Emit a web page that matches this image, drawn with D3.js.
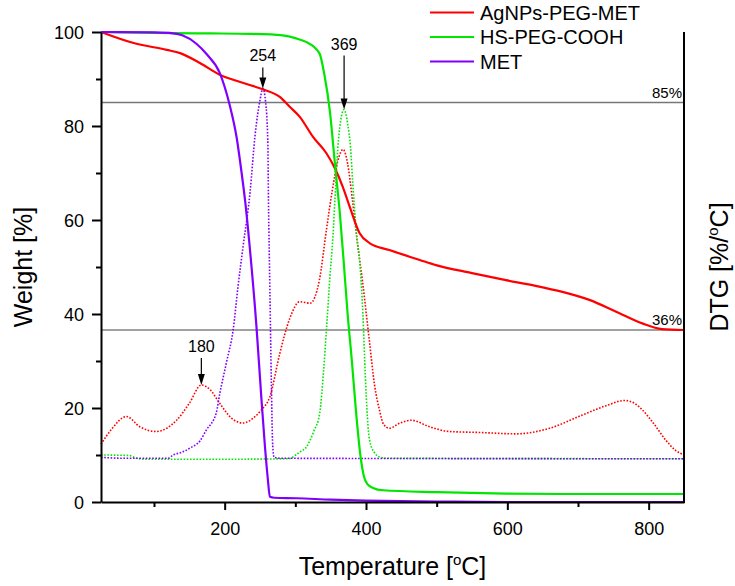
<!DOCTYPE html>
<html>
<head>
<meta charset="utf-8">
<script src="https://cdn.jsdelivr.net/npm/d3@7"></script>
<style>
  body { margin: 0; background: #fff; }
  svg { display: block; font-family: "Liberation Sans", Arial, sans-serif; }
</style>
</head>
<body>
<svg id="chart" width="735" height="586"></svg>
<script>
// TGA (solid) and DTG (dotted) data, [temperature, value]
var tgaAg = [[25,100],[70,97.7],[118,96.2],[137,95.5],[165,93.4],[193,90.9],[221,89.4],[254,87.8],[278,86.2],[292,84.1],[306,82],[325,77.7],[344,74.2],[356,71],[367,67.1],[377,62.8],[391,57.2],[405,55.1],[433,53.6],[476,51.5],[499,50.4],[550,48.7],[598,47.2],[640,46],[678,44.7],[716,43],[754,40.5],[791,38],[819,36.8],[850,36.6]];
var tgaPeg = [[25,100],[100,99.8],[180,99.7],[236,99.6],[282,99.3],[306,98.4],[315,97.9],[334,95.5],[341,91],[349,83],[356,72],[363,61.4],[369,50],[374,40],[380,30],[386,19],[392,10],[397,5.5],[402,3.8],[410,3],[424,2.5],[500,2.1],[598,1.8],[700,1.7],[850,1.7]];
var tgaMet = [[25,100],[100,99.9],[127,99.7],[140,99.3],[160,97.5],[175,95.2],[193,91.3],[207,84.5],[217,77.5],[224,70],[229,64],[235,55],[245,37.3],[252,22],[257,11.8],[261,5],[264,1.1],[270,0.9],[302,0.8],[350,0.5],[400,0.3],[500,0.1],[600,0],[850,0]];

var dtgAg = [[25,12.3],[40,15.5],[61,18.2],[80,16],[103,15],[132,17.4],[150,21],[167,24.9],[180,23.8],[193,21],[210,17.8],[226,16.8],[240,17.8],[252,19.6],[264,22.4],[278,31.6],[292,39],[306,42.6],[321,42.3],[334,47.2],[344,57.9],[352,66],[360,72.5],[367.5,75],[374,72],[381,64],[388,55],[395,47],[405,34],[412,25],[419,19.6],[425,16.5],[433,15.7],[448,16.8],[464,17.4],[490,16],[518,15],[560,14.8],[612,14.5],[660,15.7],[706,18.5],[740,20.5],[766,21.6],[780,21],[791,19.6],[808,16.5],[824,13.2],[838,11],[850,10]];
var dtgPeg = [[25,10],[65,9.9],[75,9.3],[85,9.1],[200,9.1],[290,9.2],[305,10.5],[316,11.8],[326,15],[334.5,18.9],[340,28],[344,36.6],[349,48],[353,56],[357,67],[360,75],[364,81],[369,83.5],[374,80.5],[378,75.6],[381,68.5],[386,58],[392,49.4],[395.6,40],[399,27],[402,18],[405,13.2],[412,10.5],[419,9.6],[430,9.3],[850,9.2]];
var dtgMet = [[25,9.5],[60,9.3],[120,9.3],[127,10],[140,10.6],[151,11.5],[165,13],[174,15.3],[188,18.9],[193,23],[203,30],[212,36.6],[219,46],[226,54.3],[236,66],[243,78],[250,85.5],[254,88],[258,85],[261,77],[262,64],[264,45],[266,26],[268,12],[270,9.5],[280,9.3],[850,9.2]];

var seriesNames = ["AgNPs-PEG-MET", "HS-PEG-COOH", "MET"];
var seriesColors = ["#ff0000", "#00e600", "#8000ff"];

var xTicks = [100,200,300,400,500,600,700,800];
var xLabels = [200,400,600,800];
var yTicks = [0,10,20,30,40,50,60,70,80,90,100];
var yLabels = [0,20,40,60,80,100];

// reference lines and peak labels
var refLines = [{v:85, label:"85%"}, {v:36.6, label:"36%"}];
var peaks = [{t:254, v:88, label:"254", len:21}, {t:369, v:83.5, label:"369", len:54}, {t:167, v:24.9, label:"180", len:27}];

// STEP 1: scales
var pLeft = 101, pRight = 684, pTop = 32, pBottom = 502;
var x = d3.scaleLinear().domain([25, 850]).range([pLeft, pRight]);
var y = d3.scaleLinear().domain([0, 100]).range([pBottom, pTop]);

var svg = d3.select("#chart");
svg.append("rect").attr("width", 735).attr("height", 586).attr("fill", "#fff");

var line = d3.line()
    .x(d => x(d[0]))
    .y(d => y(d[1]))
    .curve(d3.curveMonotoneX);

// reference lines
refLines.forEach((r, i) => {
    svg.append("line")
        .attr("x1", pLeft).attr("x2", pRight)
        .attr("y1", y(r.v)).attr("y2", y(r.v))
        .attr("stroke", i == 0 ? "#777" : "#444")
        .attr("stroke-width", i == 0 ? 1.4 : 1.1);
    svg.append("text")
        .attr("x", pRight - 2).attr("y", y(r.v) - 5)
        .attr("text-anchor", "end")
        .attr("font-size", 15)
        .text(r.label);
});

// STEP 2: curves
var dtg = [dtgAg, dtgPeg, dtgMet];
var tga = [tgaAg, tgaPeg, tgaMet];

dtg.forEach((s, i) => {
    svg.append("path")
        .datum(s)
        .attr("d", line)
        .attr("fill", "none")
        .attr("stroke", seriesColors[i])
        .attr("stroke-width", 1.6)
        .attr("stroke-dasharray", "1.6,1.6");
});
tga.forEach((s, i) => {
    svg.append("path")
        .datum(s)
        .attr("d", line)
        .attr("fill", "none")
        .attr("stroke", seriesColors[i])
        .attr("stroke-width", 2.2);
});

// STEP 3: axes
var xAxis = d3.axisBottom(x).tickValues(xTicks).tickSizeOuter(0)
    .tickFormat(d => xLabels.includes(d) ? d : "");
var gx = svg.append("g").attr("transform", `translate(0,${pBottom})`).call(xAxis);
gx.selectAll("line").attr("y2", d => xLabels.includes(d) ? 8 : 5).attr("stroke-width", 2);
gx.selectAll("text").attr("font-size", 18).attr("font-family", "inherit").attr("fill", "#000").attr("y", 20).attr("dy", "0.71em");

var yAxis = d3.axisLeft(y).tickValues(yTicks).tickSizeOuter(0)
    .tickFormat(d => yLabels.includes(d) ? d : "");
var gy = svg.append("g").attr("transform", `translate(${pLeft},0)`).call(yAxis);
gy.selectAll("line").attr("x2", d => yLabels.includes(d) ? -9 : -5).attr("stroke-width", 2);
gy.selectAll("text").attr("font-size", 18).attr("font-family", "inherit").attr("fill", "#000").attr("x", -17).attr("dy", "0.35em");

[gx, gy].forEach(g => g.select(".domain").attr("stroke-width", 2));
svg.append("line")
    .attr("x1", pRight).attr("x2", pRight)
    .attr("y1", pTop).attr("y2", pBottom + 1)
    .attr("stroke", "#000").attr("stroke-width", 2);

// axis titles
var xt = svg.append("text")
    .attr("x", (pLeft + pRight) / 2).attr("y", 575)
    .attr("text-anchor", "middle").attr("font-size", 25);
xt.append("tspan").text("Temperature [");
xt.append("tspan").attr("font-size", 15).attr("dy", -10).text("o");
xt.append("tspan").attr("dy", 10).text("C]");

svg.append("text")
    .attr("transform", `translate(32,${(pTop + pBottom) / 2}) rotate(-90)`)
    .attr("text-anchor", "middle").attr("font-size", 25)
    .text("Weight [%]");

var yt = svg.append("text")
    .attr("transform", `translate(728,${(pTop + pBottom) / 2}) rotate(-90)`)
    .attr("text-anchor", "middle").attr("font-size", 25);
yt.append("tspan").text("DTG [%/");
yt.append("tspan").attr("font-size", 15).attr("dy", -10).text("o");
yt.append("tspan").attr("dy", 10).text("C]");

// peak arrows
peaks.forEach(p => {
    var px = x(p.t), py = y(p.v);
    svg.append("line")
        .attr("x1", px).attr("x2", px)
        .attr("y1", py - p.len).attr("y2", py - 8)
        .attr("stroke", "#000").attr("stroke-width", 1.2);
    svg.append("path")
        .attr("d", `M${px - 3.5},${py - 11} L${px + 3.5},${py - 11} L${px},${py} Z`)
        .attr("fill", "#000");
    svg.append("text")
        .attr("x", px).attr("y", py - p.len - 6)
        .attr("text-anchor", "middle").attr("font-size", 16)
        .text(p.label);
});

// legend
var legend = svg.append("g");
seriesNames.forEach((n, i) => {
    var ly = 12.5 + i * 24.5;
    legend.append("line")
        .attr("x1", 430).attr("x2", 474)
        .attr("y1", ly).attr("y2", ly)
        .attr("stroke", seriesColors[i]).attr("stroke-width", 2);
    legend.append("text")
        .attr("x", 480).attr("y", ly).attr("dy", "0.35em")
        .attr("font-size", 20)
        .text(n);
});
</script>
</body>
</html>
